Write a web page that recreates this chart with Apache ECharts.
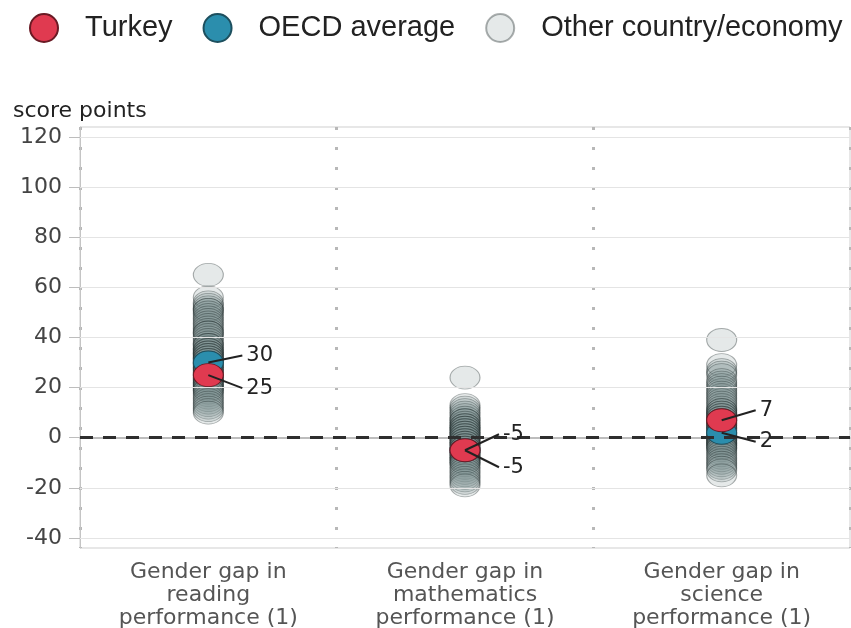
<!DOCTYPE html>
<html>
<head>
<meta charset="utf-8">
<script src="https://cdn.jsdelivr.net/npm/echarts@6/dist/echarts.min.js"></script>
<style>
  html, body { margin: 0; padding: 0; background: #fff; }
  #chart { width: 851px; height: 628px; }
</style>
</head>
<body>
<div id="chart"></div>
<script>
// Gender gaps (girls minus boys), score points
const categories = [
  'Gender gap in\nreading\nperformance (1)',
  'Gender gap in\nmathematics\nperformance (1)',
  'Gender gap in\nscience\nperformance (1)'
];
const yTicks = [-40, -20, 0, 20, 40, 60, 80, 100, 120];

const turkey = [25, -5, 7];
const oecd = [30, -5, 2];

const otherReading = [65, 56, 54, 53, 52, 51, 51, 50, 49, 48, 47, 46, 45, 44, 43, 42, 42, 41, 40, 39,
  38, 37, 37, 36, 35, 35, 34, 34, 33, 33, 32, 32, 31, 31, 30, 29, 29, 28, 28, 27, 27, 26, 26, 25,
  24, 24, 23, 23, 22, 22, 21, 21, 20, 20, 19, 19, 18, 17, 16, 15, 14, 13, 12, 11, 10];
const otherMath = [24, 13, 12, 11, 10, 9, 8, 7, 7, 6, 5, 5, 4, 4, 3, 3, 2, 2, 1, 1, 0, 0, -1, -1,
  -2, -2, -3, -3, -4, -4, -5, -6, -6, -7, -7, -8, -8, -9, -9, -10, -10, -11, -12, -13, -14, -15,
  -16, -17, -18, -19];
const otherScience = [39, 29, 27, 26, 25, 23, 22, 21, 20, 19, 18, 17, 16, 15, 14, 13, 12, 11, 11,
  10, 10, 9, 9, 8, 8, 7, 7, 6, 6, 5, 5, 4, 4, 3, 3, 2, 1, 1, 0, 0, -1, -1, -2, -2, -3, -3, -4, -4,
  -5, -6, -7, -8, -9, -10, -11, -12, -13, -15];

// Vertical offset of each value label from its marker (reading OECD, reading Turkey,
// maths OECD, maths Turkey, science Turkey, science OECD)
const labelDy = [-7, 13, -16, 17, -10, 9];

const ellipse = 'path://M0,50 A50,50 0 1,1 100,50 A50,50 0 1,1 0,50 Z';
const plotFont = 'DejaVu Sans';

const otherData = [];
[otherReading, otherMath, otherScience].forEach((arr, i) => {
  arr.forEach(v => otherData.push([i, v]));
});

const annotations = [
  [0, oecd[0]], [0, turkey[0]],
  [1, oecd[1]], [1, turkey[1]],
  [2, turkey[2]], [2, oecd[2]]
];

const chart = echarts.init(document.getElementById('chart'), null, { renderer: 'canvas' });

chart.setOption({
  animation: false,
  backgroundColor: '#ffffff',
  title: {
    text: 'score points',
    left: 8,
    top: 95,
    textStyle: { fontFamily: plotFont, fontSize: 22, fontWeight: 'normal', color: '#222' }
  },
  legend: {
    top: 8,
    left: 24,
    itemWidth: 28,
    itemHeight: 30,
    itemGap: 30,
    icon: ellipse,
    data: ['Turkey', 'OECD average', 'Other country/economy'],
    textStyle: {
      fontFamily: 'Liberation Sans',
      fontSize: 29,
      color: '#222',
      padding: [0, 0, 0, 22]
    }
  },
  grid: {
    left: 80,
    right: 1,
    top: 127,
    bottom: 80,
    outerBoundsMode: 'none',
    show: true,
    borderColor: '#cfcfcf',
    borderWidth: 1
  },
  xAxis: {
    type: 'category',
    data: categories,
    boundaryGap: true,
    axisLine: { lineStyle: { color: '#a8a8a8', width: 1.5 } },
    axisTick: { show: false },
    axisLabel: {
      interval: 0,
      fontFamily: plotFont,
      fontSize: 22,
      lineHeight: 23,
      color: '#555',
      margin: 13
    },
    splitLine: {
      show: true,
      interval: 0,
      lineStyle: { color: '#b8b8b8', width: 3, type: [3, 17] }
    }
  },
  yAxis: {
    type: 'value',
    min: -44,
    max: 124,
    axisLine: { show: true, lineStyle: { color: '#c4c4c4' } },
    axisTick: { show: true, customValues: yTicks, length: 11, lineStyle: { color: '#bdbdbd' } },
    axisLabel: {
      customValues: yTicks,
      fontFamily: plotFont,
      fontSize: 22,
      color: '#444',
      margin: 18
    },
    splitLine: { show: false }
  },
  series: [
    {
      // reference lines: horizontal grid and the zero line
      name: 'gridlines',
      type: 'line',
      data: [],
      z: 1,
      silent: true,
      markLine: {
        silent: true,
        symbol: 'none',
        label: { show: false },
        animation: false,
        data: yTicks.map(v => ({
          yAxis: v,
          lineStyle: v === 0
            ? { color: '#2e2e2e', width: 3, type: [13, 10] }
            : { color: '#e4e4e4', width: 1, type: 'solid' }
        }))
      }
    },
    {
      name: 'Other country/economy',
      type: 'scatter',
      z: 3,
      symbol: ellipse,
      symbolSize: [30, 23],
      data: otherData,
      itemStyle: {
        opacity: 1,
        color: 'rgba(125,145,145,0.2)',
        borderColor: 'rgba(25,35,35,0.36)',
        borderWidth: 1
      }
    },
    {
      name: 'OECD average',
      type: 'scatter',
      z: 4,
      symbol: ellipse,
      symbolSize: [30, 23],
      data: oecd.map((v, i) => [i, v]),
      itemStyle: { opacity: 1, color: '#2b8ead', borderColor: '#1d4f5e', borderWidth: 1 }
    },
    {
      name: 'Turkey',
      type: 'scatter',
      z: 5,
      symbol: ellipse,
      symbolSize: [30, 23],
      data: turkey.map((v, i) => [i, v]),
      itemStyle: { opacity: 1, color: '#e03a50', borderColor: '#6a1a24', borderWidth: 1 }
    },
    {
      // value labels with leader lines
      name: 'labels',
      type: 'custom',
      z: 6,
      silent: true,
      data: annotations,
      renderItem: function (params, api) {
        const p = api.coord([api.value(0), api.value(1)]);
        const dy = labelDy[params.dataIndex];
        return {
          type: 'group',
          children: [
            {
              type: 'line',
              shape: { x1: p[0], y1: p[1], x2: p[0] + 34, y2: p[1] + dy },
              style: { stroke: '#222', lineWidth: 2 }
            },
            {
              type: 'text',
              x: p[0] + 38,
              y: p[1] + dy,
              style: {
                text: String(api.value(1)),
                fontFamily: plotFont,
                fontSize: 21,
                fill: '#222',
                verticalAlign: 'middle',
                align: 'left'
              }
            }
          ]
        };
      }
    }
  ]
});
</script>
</body>
</html>
